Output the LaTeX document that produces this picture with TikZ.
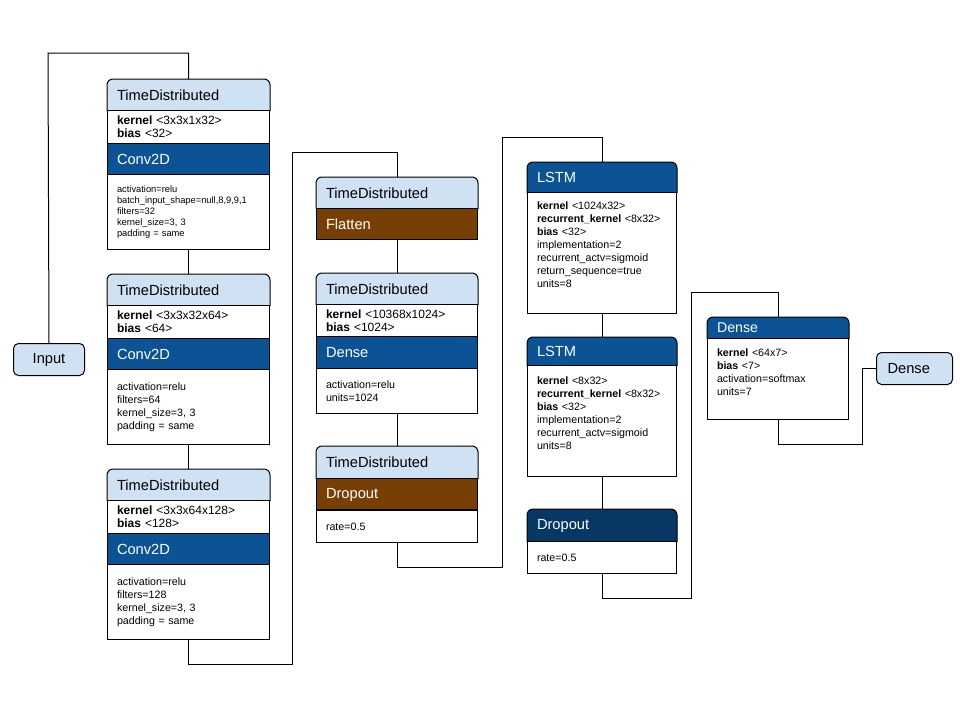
\documentclass[tikz,border=0pt]{standalone}
\usepackage{fontspec}
\setmainfont{Liberation Sans}
\usetikzlibrary{backgrounds}

\definecolor{tdblue}{HTML}{CFE2F3}
\definecolor{layblue}{HTML}{0B5394}
\definecolor{deepblue}{HTML}{073763}
\definecolor{laybrown}{HTML}{783F04}

\tikzset{
  wire/.style={line width=1pt},
  sect/.style={draw, wire, anchor=north west, inner xsep=9.5pt, inner ysep=0pt, align=left},
  tdhead/.style={sect, draw=none, font=\fontsize{14.67}{17}\selectfont},
  bar/.style={sect, text=white, font=\fontsize{14.67}{17}\selectfont},
  wts/.style={sect, fill=white, font=\fontsize{12}{13}\selectfont},
  opts/.style={sect, fill=white, font=\fontsize{10.67}{13}\selectfont},
  col1/.style={text width=143pt},
  col2/.style={text width=142pt},
  col3/.style={text width=130pt},
  col4/.style={text width=122pt}
}

\begin{document}
\begin{tikzpicture}[x=1pt,y=-1pt]
  \useasboundingbox (0,0) rectangle (960,720);

  % input
  \node[draw, wire, rounded corners=5pt, fill=tdblue, anchor=north west, minimum width=71pt, minimum height=32pt,
        inner sep=0pt, font=\fontsize{14.67}{17}\selectfont] (inp) at (13,343) {Input};

  % first column: Conv2D layers
  \node[tdhead,col1,minimum height=31pt] (td1) at (107,79) {TimeDistributed};
  \node[wts,col1,minimum height=33pt] (td1k) at (107,110) {\textbf{kernel} <3x3x1x32>\\\textbf{bias} <32>};
  \node[bar,col1,fill=layblue,minimum height=31pt] (td1c) at (107,143) {Conv2D};
  \node[opts,col1,minimum height=75pt,font=\fontsize{9.33}{11}\selectfont] (td1p) at (107,174)
    {activation=relu\\batch\_input\_shape=null,8,9,9,1\\filters=32\\kernel\_size=3, 3\\padding = same};

  \node[tdhead,col1,minimum height=31pt] (td2) at (107,274) {TimeDistributed};
  \node[wts,col1,minimum height=33pt] (td2k) at (107,305) {\textbf{kernel} <3x3x32x64>\\\textbf{bias} <64>};
  \node[bar,col1,fill=layblue,minimum height=31pt] (td2c) at (107,338) {Conv2D};
  \node[opts,col1,minimum height=75pt] (td2p) at (107,369)
    {activation=relu\\filters=64\\kernel\_size=3, 3\\padding = same};

  \node[tdhead,col1,minimum height=31pt] (td3) at (107,469) {TimeDistributed};
  \node[wts,col1,minimum height=33pt] (td3k) at (107,500) {\textbf{kernel} <3x3x64x128>\\\textbf{bias} <128>};
  \node[bar,col1,fill=layblue,minimum height=31pt] (td3c) at (107,533) {Conv2D};
  \node[opts,col1,minimum height=75pt] (td3p) at (107,564)
    {activation=relu\\filters=128\\kernel\_size=3, 3\\padding = same};

  % second column
  \node[tdhead,col2,minimum height=31pt] (td4) at (316,177) {TimeDistributed};
  \node[bar,col2,fill=laybrown,minimum height=31pt] (td4f) at (316,208) {Flatten};

  \node[tdhead,col2,minimum height=31pt] (td5) at (316,273) {TimeDistributed};
  \node[wts,col2,minimum height=32pt] (td5k) at (316,304) {\textbf{kernel} <10368x1024>\\\textbf{bias} <1024>};
  \node[bar,col2,fill=layblue,minimum height=32pt] (td5d) at (316,336) {Dense};
  \node[opts,col2,minimum height=45pt] (td5p) at (316,368) {activation=relu\\units=1024};

  \node[tdhead,col2,minimum height=32pt] (td6) at (316,446) {TimeDistributed};
  \node[bar,col2,fill=laybrown,minimum height=32pt] (td6d) at (316,478) {Dropout};
  \node[opts,col2,minimum height=32pt] (td6p) at (316,510) {rate=0.5};
  \draw[line width=2pt] (td6p.north west) -- (td6p.north east);

  % third column: recurrent part
  \node[tdhead,col3,text=white,minimum height=30pt] (lstm1) at (527,162) {LSTM};
  \node[opts,col3,minimum height=121pt] (lstm1p) at (527,192)
    {\textbf{kernel} <1024x32>\\\textbf{recurrent\_kernel} <8x32>\\\textbf{bias} <32>\\implementation=2\\recurrent\_actv=sigmoid\\return\_sequence=true\\units=8\\[3pt]~};

  \node[tdhead,col3,text=white,minimum height=28pt] (lstm2) at (527,337) {LSTM};
  \node[opts,col3,minimum height=111pt] (lstm2p) at (527,365)
    {\textbf{kernel} <8x32>\\\textbf{recurrent\_kernel} <8x32>\\\textbf{bias} <32>\\implementation=2\\recurrent\_actv=sigmoid\\units=8\\[2pt]~};

  \node[tdhead,col3,text=white,minimum height=32pt] (drop2) at (527,509) {Dropout};
  \node[opts,col3,minimum height=32pt] (drop2p) at (527,541) {rate=0.5};

  % fourth column
  \node[tdhead,col4,text=white,minimum height=21pt,font=\fontsize{14.2}{16}\selectfont] (dns) at (707,317) {Dense};
  \node[opts,col4,minimum height=81pt] (dnsp) at (707,338)
    {\textbf{kernel} <64x7>\\\textbf{bias} <7>\\activation=softmax\\units=7\\~};

  % output
  \node[draw, wire, rounded corners=5pt, fill=tdblue, anchor=north west, text width=54pt, minimum height=32pt,
        inner xsep=11pt, inner ysep=0pt, align=left, font=\fontsize{14.67}{17}\selectfont] (out) at (876,352) {Dense};

  % header fills with rounded top corners
  \begin{scope}[on background layer]
    \foreach \h/\c in {td1/tdblue,td2/tdblue,td3/tdblue,td4/tdblue,td5/tdblue,td6/tdblue,
                       lstm1/layblue,lstm2/layblue,drop2/deepblue,dns/layblue}
      \draw[wire,fill=\c,rounded corners=6pt] (\h.south west) -- (\h.north west) -- (\h.north east) -- (\h.south east);
  \end{scope}

  % connectors
  \coordinate (k0) at (48,53);
  \draw[wire] (inp.north) -- (k0) -| (td1.north);
  \draw[wire] (td1p.south) -- (td2.north);
  \draw[wire] (td2p.south) -- (td3.north);
  \coordinate (j1) at (292,664);
  \coordinate (k1) at (292,152);
  \draw[wire] (td3p.south) |- (j1) -- (k1) -| (td4.north);
  \draw[wire] (td4f.south) -- (td5.north);
  \draw[wire] (td5p.south) -- (td6.north);
  \coordinate (j2) at (502,567);
  \coordinate (k2) at (502,137);
  \draw[wire] (td6p.south) |- (j2) -- (k2) -| (lstm1.north);
  \draw[wire] (lstm1p.south) -- (lstm2.north);
  \draw[wire] (lstm2p.south) -- (drop2.north);
  \coordinate (j3) at (691,598);
  \coordinate (k3) at (691,292);
  \draw[wire] (drop2p.south) |- (j3) -- (k3) -| (dns.north);
  \coordinate (j4) at (862,444);
  \draw[wire] (dnsp.south) |- (j4) |- (out.west);
\end{tikzpicture}
\end{document}
